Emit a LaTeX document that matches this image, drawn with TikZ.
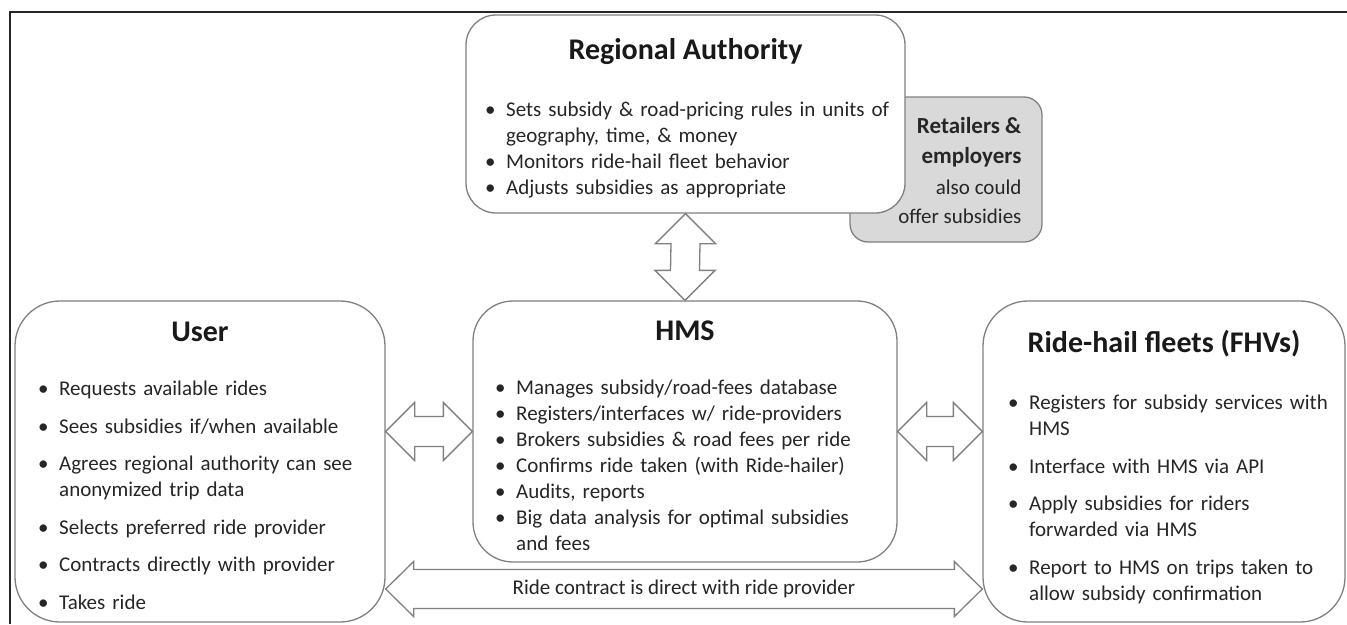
\documentclass[tikz,border=0pt]{standalone}
\usepackage{fontspec}
\setmainfont{Carlito}
\usetikzlibrary{positioning,calc}

\newcommand{\itm}[1]{\par\hangindent=21pt\hangafter=1\noindent\makebox[21pt][l]{\textbullet}#1}
% block arrows: from, to, half shaft, half head, head length
\newcommand{\hbiarrow}[5]{\draw[twoway] (#1) -- ++(#5,-#4) -- ++(0,#4-#3) -- ($(#2)+(-#5,-#3)$) -- ++(0,#3-#4) -- (#2)
  -- ++(-#5,#4) -- ++(0,#3-#4) -- ($(#1)+(#5,#3)$) -- ++(0,#4-#3) -- cycle;}
\newcommand{\vbiarrow}[5]{\draw[twoway] (#1) -- ++(#4,#5) -- ++(#3-#4,0) -- ($(#2)+(#3,-#5)$) -- ++(#4-#3,0) -- (#2)
  -- ++(-#4,-#5) -- ++(#4-#3,0) -- ($(#1)+(-#3,#5)$) -- ++(#3-#4,0) -- cycle;}

\begin{document}
\begin{tikzpicture}[x=1pt,y=-1pt,
  actor/.style={draw=black!50, line width=1.3pt, fill=white, rounded corners=#1, inner sep=0pt},
  actor/.default=40pt,
  heading/.style={font=\fontsize{30}{36}\selectfont\bfseries, text=black!90, inner sep=0pt, anchor=base},
  points/.style={text width=#1, align=left, inner sep=0pt, anchor=north west, text=black!85, font=\fontsize{21}{26}\selectfont},
  twoway/.style={draw=black!50, line width=1.3pt, fill=white}]

\useasboundingbox (0,0) rectangle (1347,624);
% frame, only top and left edges in view
\draw[line width=2.5pt, black!85] (10,624) -- (10,12) -- (1347,12);

% boxes
\node[actor=18pt, fill=black!15, minimum width=192pt, minimum height=145pt] (shops) at (946,169.5) {};
\node[actor=30pt, minimum width=439pt, minimum height=198pt] (ra) at (685.5,114) {};
\node[actor=45pt, minimum width=370pt, minimum height=321pt] (user) at (200,461.5) {};
\node[actor, minimum width=424pt, minimum height=261pt] (hms) at (685,431.5) {};
\node[actor=45pt, minimum width=362pt, minimum height=321pt] (fleet) at (1164,461.5) {};

% titles
\node[heading] (ra-t) at ($(ra.north)+(0,45)$) {Regional Authority};
\node[heading] (user-t) at ($(user.north)+(0,41)$) {User};
\node[heading] (hms-t) at ($(hms.north)+(0,40)$) {HMS};
\node[heading] (fleet-t) at ($(fleet.north)+(0,52)$) {Ride-hail fleets (FHVs)};

% bullet lists
\node[points=430pt] (ra-l) at (485,90) {\parskip=0pt
  \itm{Sets subsidy \& road-pricing rules in units of\newline geography, time, \& money}
  \itm{Monitors ride-hail fleet behavior}
  \itm{Adjusts subsidies as appropriate}\par};
\node[points=360pt] (user-l) at (38,358) {\parskip=11.5pt
  \itm{Requests available rides}
  \itm{Sees subsidies if/when available}
  \itm{Agrees regional authority can see\newline anonymized trip data}
  \itm{Selects preferred ride provider}
  \itm{Contracts directly with provider}
  \itm{Takes ride}\par};
\node[points=420pt] (hms-l) at (495,368) {\parskip=0pt
  \itm{Manages subsidy/road-fees database}
  \itm{Registers/interfaces w/ ride-providers}
  \itm{Brokers subsidies \& road fees per ride}
  \itm{Confirms ride taken (with Ride-hailer)}
  \itm{Audits, reports}
  \itm{Big data analysis for optimal subsidies\newline and fees}\par};
\node[points=360pt] (fleet-l) at (1008,372) {\parskip=11.5pt
  \itm{Registers for subsidy services with\newline HMS}
  \itm{Interface with HMS via API}
  \itm{Apply subsidies for riders\newline forwarded via HMS}
  \itm{Report to HMS on trips taken to\newline allow subsidy confirmation}\par};

\node[anchor=north east, align=right, inner sep=0pt, text=black!85, font=\fontsize{21}{28}\selectfont] (shops-t) at ($(shops.north east)+(-21,21)$)
  {{\fontsize{23}{30}\selectfont\bfseries Retailers \&}\\[2pt]{\fontsize{23}{30}\selectfont\bfseries employers}\\[3pt]also could\\[1pt]offer subsidies};

% arrows
\vbiarrow{ra.south}{hms.north}{14.5}{30}{30}
\hbiarrow{user.east |- hms.west}{hms.west}{15}{29}{29}
\hbiarrow{hms.east}{fleet.west |- hms.east}{15}{29}{29}
\coordinate (contract) at (685,589);
\hbiarrow{user.east |- contract}{fleet.west |- contract}{19.5}{27.5}{28}
\node[text=black!85, font=\fontsize{21}{26}\selectfont] (contract-t) at ($(user.east |- contract)!.5!(fleet.west |- contract)$) {Ride contract is direct with ride provider};
\end{tikzpicture}
\end{document}
